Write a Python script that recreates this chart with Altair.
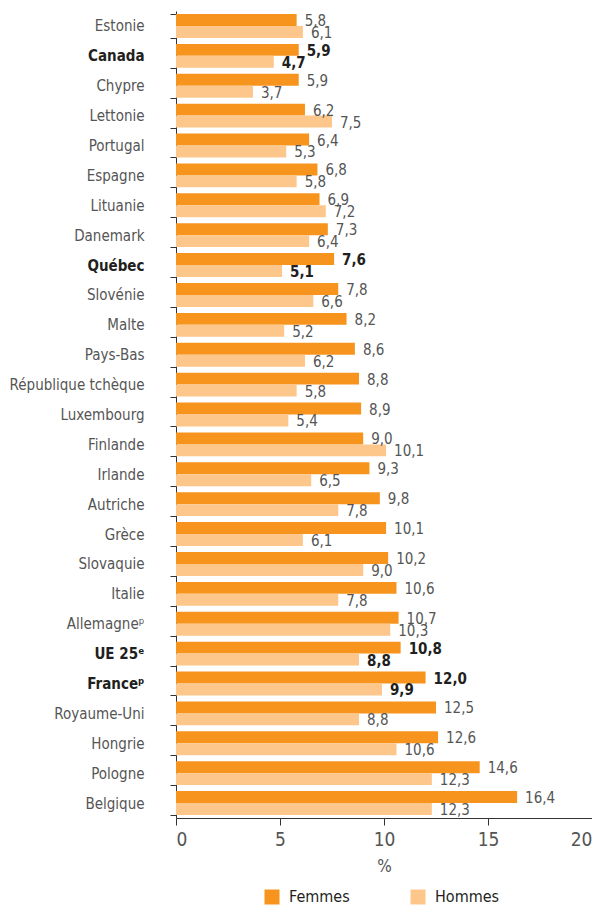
import altair as alt
import pandas as pd

countries = ["Estonie", "Canada", "Chypre", "Lettonie", "Portugal", "Espagne", "Lituanie",
             "Danemark", "Québec", "Slovénie", "Malte", "Pays-Bas", "République tchèque",
             "Luxembourg", "Finlande", "Irlande", "Autriche", "Grèce", "Slovaquie", "Italie",
             "Allemagneᵖ", "UE 25ᵉ", "Franceᵖ", "Royaume-Uni", "Hongrie", "Pologne", "Belgique"]
femmes = [5.8, 5.9, 5.9, 6.2, 6.4, 6.8, 6.9, 7.3, 7.6, 7.8, 8.2, 8.6, 8.8, 8.9, 9.0, 9.3,
          9.8, 10.1, 10.2, 10.6, 10.7, 10.8, 12.0, 12.5, 12.6, 14.6, 16.4]
hommes = [6.1, 4.7, 3.7, 7.5, 5.3, 5.8, 7.2, 6.4, 5.1, 6.6, 5.2, 6.2, 5.8, 5.4, 10.1, 6.5,
          7.8, 6.1, 9.0, 7.8, 10.3, 8.8, 9.9, 8.8, 10.6, 12.3, 12.3]
bold_rows = ["Canada", "Québec", "UE 25ᵉ", "Franceᵖ"]
series = ["Femmes", "Hommes"]
colors = ["#F7941D", "#FDC68A"]

rows = []
for c, f, h in zip(countries, femmes, hommes):
    rows.append({"pays": c, "sexe": "Femmes", "v": f, "bold": c in bold_rows})
    rows.append({"pays": c, "sexe": "Hommes", "v": h, "bold": c in bold_rows})
df = pd.DataFrame(rows)

FONT = "DejaVu Sans Condensed"
GRAY = "#555555"
DARK = "#231F20"

bold_test = " || ".join([f"datum.value == '{b}'" for b in bold_rows])

y_enc = alt.Y("pays:N", sort=countries,
              scale=alt.Scale(paddingInner=0.2, paddingOuter=0.1),
              axis=alt.Axis(title=None, tickBand="extent", tickSize=6, labelPadding=26,
                            labelFontSize=15, labelFont=FONT, domainColor="#333333",
                            tickColor="#333333", labelLimit=200,
                            labelColor=alt.condition(bold_test, alt.value(DARK), alt.value(GRAY)),
                            labelFontWeight=alt.condition(bold_test, alt.value("bold"), alt.value("normal"))))
yoff = alt.YOffset("sexe:N", sort=series, scale=alt.Scale(paddingInner=0, paddingOuter=0))
x_enc = alt.X("v:Q", scale=alt.Scale(domain=[0, 20], nice=False),
              axis=alt.Axis(title="%", values=[0, 5, 10, 15, 20], grid=False, tickSize=7,
                            labelFontSize=19, labelFont=FONT, labelColor=GRAY, labelPadding=5,
                            labelFlush=True, labelFlushOffset=0, labelOverlap=False,
                            titleFont=FONT, titleFontSize=17, titleFontWeight="normal",
                            titleColor=GRAY, titlePadding=9, domainColor="#333333",
                            tickColor="#333333"))

base = alt.Chart(df).transform_calculate(
    lab="replace(format(datum.v, '.1f'), '.', ',')"
)

bars = base.mark_bar().encode(
    y=y_enc, yOffset=yoff, x=x_enc,
    color=alt.Color("sexe:N", sort=series,
                    scale=alt.Scale(domain=series, range=colors),
                    legend=alt.Legend(title=None, orient="none", legendX=88, legendY=878,
                                      direction="horizontal", symbolType="square",
                                      symbolSize=225, symbolStrokeWidth=0, labelFont=FONT,
                                      labelFontSize=16, labelColor=DARK, labelOffset=9,
                                      columnPadding=60, symbolOpacity=1, padding=0)),
)

txt_norm = base.transform_filter("!datum.bold").mark_text(
    align="left", baseline="middle", dx=8, dy=1, font=FONT, fontSize=15, color=GRAY
).encode(y=alt.Y("pays:N", sort=countries), yOffset=yoff, x="v:Q", text="lab:N")

txt_bold = base.transform_filter("datum.bold").mark_text(
    align="left", baseline="middle", dx=8, dy=1, font=FONT, fontSize=15, color=DARK,
    fontWeight="bold"
).encode(y=alt.Y("pays:N", sort=countries), yOffset=yoff, x="v:Q", text="lab:N")

chart = alt.layer(bars, txt_norm, txt_bold).properties(
    width=416, height=807,
    autosize=alt.AutoSizeParams(type="none"),
    padding={"left": 168, "top": 3, "right": 0, "bottom": 90},
    background="white",
).configure_view(stroke=None)

chart.save("out.html", embed_options={"renderer": "svg", "actions": False})
